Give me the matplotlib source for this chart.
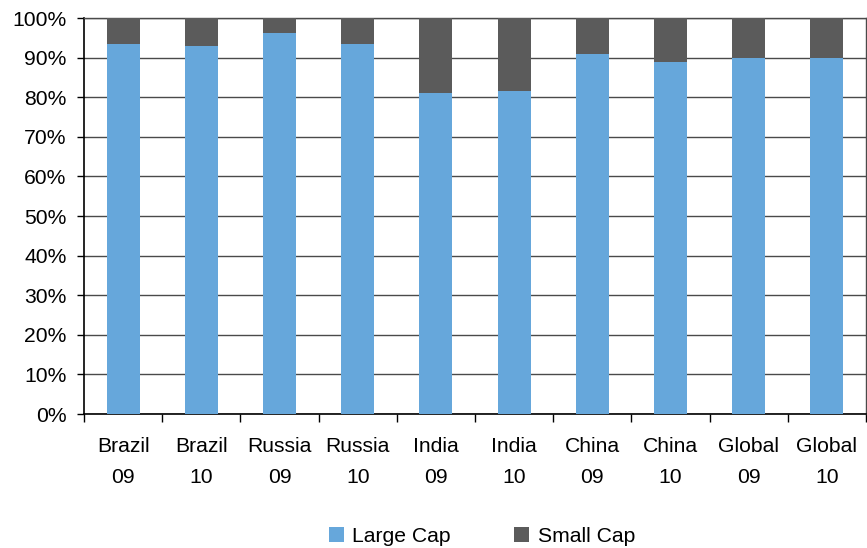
import matplotlib
matplotlib.use("Agg")
import matplotlib.pyplot as plt
import numpy as np
from matplotlib.ticker import FixedLocator, PercentFormatter

categories = ["Brazil\n09", "Brazil\n10", "Russia\n09", "Russia\n10", "India\n09",
              "India\n10", "China\n09", "China\n10", "Global\n09", "Global\n10"]
large_cap = [93.5, 93.0, 96.1, 93.5, 81.1, 81.6, 91.0, 89.0, 90.0, 90.0]
small_cap = [100 - v for v in large_cap]
yticks = list(range(0, 101, 10))

plt.rcParams['font.family'] = ['Liberation Sans', 'DejaVu Sans']
FS = 15.2

fig = plt.figure(figsize=(8.67, 5.48), dpi=100)
ax = fig.add_axes([84/867, 1 - 414/548, (866-84)/867, (414-18)/548])

x = np.arange(len(categories))
blue = "#66A7DB"
grey = "#5B5B5B"
ax.bar(x, large_cap, width=0.42, color=blue, label="Large Cap", zorder=3)
ax.bar(x, small_cap, width=0.42, bottom=large_cap, color=grey, label="Small Cap", zorder=3)

ax.set_xlim(-0.5, len(categories) - 0.5)
ax.set_ylim(0, 100)
ax.set_yticks(yticks)
ax.yaxis.set_major_formatter(PercentFormatter(decimals=0))
ax.yaxis.grid(True, color="#4a4a4a", linewidth=1.0, zorder=0)

ax.set_xticks(x)
ax.set_xticklabels(categories, linespacing=1.8)
ax.xaxis.set_minor_locator(FixedLocator(np.arange(-0.5, len(categories), 1.0)))
ax.tick_params(axis='x', which='major', length=0, pad=16.5, labelsize=FS)
ax.tick_params(axis='x', which='minor', length=6, width=1, color='black')
ax.tick_params(axis='y', length=5, width=1, labelsize=FS, pad=7.5)

for s in ['left', 'bottom']:
    ax.spines[s].set_color('black')
    ax.spines[s].set_linewidth(1.2)
for s in ['top', 'right']:
    ax.spines[s].set_color('#4a4a4a')
    ax.spines[s].set_linewidth(1.0)

fig.legend(loc='center', bbox_to_anchor=(482/867, 1 - 536/548), ncol=2, frameon=False,
           fontsize=FS, handlelength=0.7, handleheight=0.7, columnspacing=3.0,
           handletextpad=0.4, borderpad=0, borderaxespad=0)

fig.savefig("out.png", dpi=100)
